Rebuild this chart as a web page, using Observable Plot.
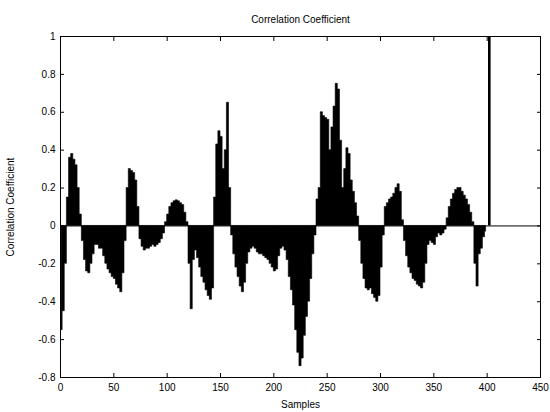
<!DOCTYPE html>
<html><head><meta charset="utf-8">
<script src="https://cdn.jsdelivr.net/npm/d3@7"></script>
<script src="https://cdn.jsdelivr.net/npm/@observablehq/plot@0.6"></script>
<style>body{margin:0;background:#fff} svg{display:block}</style>
</head><body><div id="chart"></div>
<script>
// Correlation coefficient read every second sample (samples 1, 3, 5, ... 399)
const firstSample = 1;
const sampleStep = 2;
const corr = [
  -0.55,-0.45,-0.2,0.15,0.36,0.38,0.35,0.32,0.2,0.06,
  -0.08,-0.18,-0.24,-0.25,-0.2,-0.15,-0.1,-0.1,-0.12,-0.12,
  -0.16,-0.2,-0.23,-0.25,-0.27,-0.28,-0.31,-0.33,-0.35,-0.25,
  -0.08,0.2,0.3,0.29,0.28,0.24,0.1,-0.07,-0.11,-0.13,
  -0.12,-0.12,-0.11,-0.1,-0.11,-0.1,-0.09,-0.07,-0.04,0.02,
  0.06,0.1,0.12,0.13,0.135,0.13,0.12,0.11,0.07,0.02,
  -0.2,-0.44,-0.18,-0.13,-0.17,-0.22,-0.27,-0.3,-0.34,-0.37,
  -0.39,-0.33,0.15,0.43,0.5,0.47,0.3,0.4,0.65,0.2,
  -0.05,-0.15,-0.22,-0.27,-0.32,-0.35,-0.3,-0.2,-0.14,-0.12,
  -0.11,-0.12,-0.14,-0.15,-0.15,-0.16,-0.17,-0.18,-0.2,-0.22,
  -0.24,-0.23,-0.16,-0.12,-0.11,-0.13,-0.18,-0.27,-0.34,-0.42,
  -0.55,-0.67,-0.74,-0.7,-0.58,-0.48,-0.4,-0.28,-0.15,-0.05,
  0.14,0.2,0.6,0.58,0.57,0.56,0.4,0.52,0.63,0.75,
  0.72,0.45,0.2,0.3,0.41,0.38,0.24,0.18,0.12,0.05,
  -0.08,-0.2,-0.28,-0.33,-0.34,-0.33,-0.36,-0.38,-0.4,-0.37,
  -0.22,-0.05,0.1,0.12,0.14,0.15,0.17,0.2,0.22,0.18,
  0.03,-0.08,-0.16,-0.22,-0.25,-0.28,-0.29,-0.31,-0.32,-0.33,
  -0.3,-0.2,-0.1,-0.08,-0.09,-0.1,-0.06,-0.04,-0.05,-0.04,
  -0.02,0.04,0.1,0.14,0.17,0.19,0.2,0.2,0.18,0.16,
  0.14,0.11,0.07,0.02,-0.2,-0.32,-0.15,-0.12,-0.06,-0.03
];
const peakSample = [402];
const peakValue = [1];
const xTicks = [0,50,100,150,200,250,300,350,400,450];
const yTicks = [-0.8,-0.6,-0.4,-0.2,0,0.2,0.4,0.6,0.8,1];
const titleText = "Correlation Coefficient";
const xLabel = "Samples";
const yLabel = "Correlation Coefficient";

const rows = corr.map((v, i) => ({sample: firstSample + i * sampleStep, value: v}));
const peak = peakSample.map((s, i) => ({sample: s, value: peakValue[i]}));
const fmt = d => String(+(+d).toFixed(1));
const font = "'Liberation Sans', Arial, Helvetica, sans-serif";

const chart = Plot.plot({
  width: 550, height: 412,
  marginLeft: 60, marginRight: 10, marginTop: 36, marginBottom: 35,
  style: {fontFamily: font, fontSize: "10px", background: "#fff", color: "#000", overflow: "visible"},
  x: {domain: [0, 450], label: null},
  y: {domain: [-0.8, 1], label: null},
  marks: [
    Plot.areaY(rows, {x: "sample", y1: 0, y2: "value", curve: "step", fill: "#000", stroke: "#000", strokeWidth: 0.6}),
    Plot.ruleX(peak, {x: "sample", y1: 0, y2: "value", stroke: "#000", strokeWidth: 2.6}),
    Plot.ruleY([0], {stroke: "#000", strokeWidth: 1}),
    Plot.frame({stroke: "#000", strokeWidth: 1}),
    Plot.axisX(xTicks, {anchor: "bottom", tickSize: 0, tickPadding: 6, tickFormat: fmt, label: null, fill: "#000"}),
    Plot.axisX(xTicks, {anchor: "bottom", fill: "none", tickSize: 4, dy: -4, label: null, stroke: "#000"}),
    Plot.axisX(xTicks, {anchor: "top", fill: "none", tickSize: 4, dy: 4, label: null, stroke: "#000"}),
    Plot.axisY(yTicks, {anchor: "left", tickSize: 0, tickPadding: 5, tickFormat: fmt, label: null, fill: "#000"}),
    Plot.axisY(yTicks, {anchor: "left", fill: "none", tickSize: 4, dx: 4, label: null, stroke: "#000"}),
    Plot.axisY(yTicks, {anchor: "right", fill: "none", tickSize: 4, dx: -4, label: null, stroke: "#000"}),
    Plot.text([titleText], {text: d => d, frameAnchor: "top", dy: -17, lineAnchor: "middle", textAnchor: "middle", fontSize: 10, fill: "#000"}),
    Plot.text([xLabel], {text: d => d, frameAnchor: "bottom", dy: 27, lineAnchor: "middle", textAnchor: "middle", fontSize: 10, fill: "#000"}),
    Plot.text([yLabel], {text: d => d, frameAnchor: "left", dx: -50, rotate: -90, lineAnchor: "middle", textAnchor: "middle", fontSize: 10, fill: "#000"})
  ]
});
document.getElementById("chart").appendChild(chart);
</script>
</body></html>
